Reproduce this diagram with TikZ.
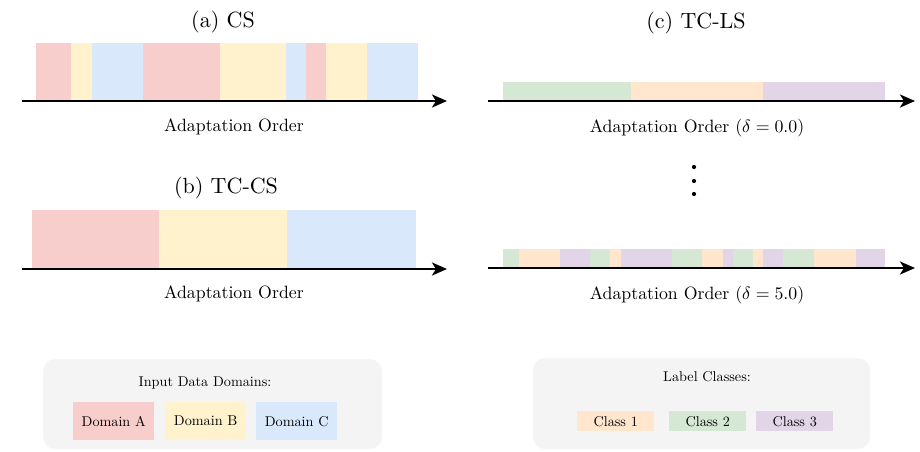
\documentclass[tikz,border=0pt]{standalone}
\usepackage{graphicx}
\usetikzlibrary{arrows.meta}
\definecolor{dpink}{HTML}{F8CECC}
\definecolor{dyellow}{HTML}{FFF2CC}
\definecolor{dblue}{HTML}{DAE8FC}
\definecolor{cgreen}{HTML}{D5E8D4}
\definecolor{corange}{HTML}{FFE6CC}
\definecolor{cpurple}{HTML}{E1D5E7}
\definecolor{legbg}{HTML}{F4F4F4}
% text set at the 10pt design size, then enlarged
\newcommand\pantxt[1]{\scalebox{2.2}{#1}}
\newcommand\axtxt[1]{\scalebox{1.78}{#1}}
\newcommand\legtxt[1]{\scalebox{1.42}{#1}}
\begin{document}
\begin{tikzpicture}[x=1pt,y=-1pt,
  axis/.style={line width=2.6pt,-{Stealth[length=15pt,width=13pt,inset=4pt]}},
  txt/.style={font=\fontsize{10}{12}\selectfont,inner sep=0pt},
  legpanel/.style={fill=legbg,rounded corners=12pt},
  legkey/.style={inner sep=0pt,anchor=north west}]
\useasboundingbox (0,0) rectangle (920,451);

% ---- (a) CS: domain shuffle
\foreach \a/\b/\c in {36/71/dpink,71/92/dyellow,92/143/dblue,143/220/dpink,
                      220/286/dyellow,286/306/dblue,306/326/dpink,326/367/dyellow,367/418/dblue}
  \fill[\c] (\a,43) rectangle (\b,100.5);
\coordinate (a0) at (22,101);
\coordinate (a1) at (447,101);
\draw[axis] (a0) -- (a1);
\node[txt] (ta) at (223,22) {\pantxt{(a) CS}};
\node[txt] (la) at (234,127) {\axtxt{Adaptation Order}};

% ---- (b) TC-CS: one block per domain
\foreach \a/\b/\c in {32/159/dpink,159/287/dyellow,287/416/dblue}
  \fill[\c] (\a,210) rectangle (\b,268.5);
\coordinate (b0) at (22,269);
\coordinate (b1) at (447,269);
\draw[axis] (b0) -- (b1);
\node[txt] (tb) at (226,188) {\pantxt{(b) TC-CS}};
\node[txt] (lb) at (234,294) {\axtxt{Adaptation Order}};

% ---- (c) TC-LS, delta = 0
\foreach \a/\b/\c in {503/631/cgreen,631/763/corange,763/885/cpurple}
  \fill[\c] (\a,82) rectangle (\b,100.5);
\coordinate (c0) at (488,101);
\coordinate (c1) at (915,101);
\draw[axis] (c0) -- (c1);
\node[txt] (tc) at (696,23) {\pantxt{(c) TC-LS}};
\node[txt] (lc) at (697,128) {\axtxt{Adaptation Order ($\delta = 0.0$)}};

% vertical ellipsis
\foreach \y in {167,181,194}
  \fill (694,\y) circle (2.1);

% ---- (c) TC-LS, delta = 5
\foreach \a/\b/\c in {503/519/cgreen,519/560/corange,560/590/cpurple,590/610/cgreen,
                      610/621/corange,621/672/cpurple,672/702/cgreen,702/723/corange,
                      723/733/cpurple,733/753/cgreen,753/763/corange,763/783/cpurple,
                      783/814/cgreen,814/856/corange,856/885/cpurple}
  \fill[\c] (\a,249) rectangle (\b,267.5);
\coordinate (d0) at (488,268);
\coordinate (d1) at (915,268);
\draw[axis] (d0) -- (d1);
\node[txt] (ld) at (697,295) {\axtxt{Adaptation Order ($\delta = 5.0$)}};

% ---- legend: domains
\fill[legpanel] (43,359) rectangle (382,449);
\node[txt] (lgd) at (205,383) {\legtxt{Input Data Domains:}};
\node[legkey,fill=dpink,minimum width=81pt,minimum height=38pt] (kA) at (73,402) {};
\node[legkey,fill=dyellow,minimum width=81pt,minimum height=38pt] (kB) at (165,402) {};
\node[legkey,fill=dblue,minimum width=81pt,minimum height=38pt] (kC) at (256,402) {};
\node[txt] at (kA.center) {\legtxt{Domain A}};
\node[txt] at (kB.center) {\legtxt{Domain B}};
\node[txt] at (kC.center) {\legtxt{Domain C}};

% ---- legend: classes
\fill[legpanel] (533,358) rectangle (870,449);
\node[txt] (lgc) at (707,377) {\legtxt{Label Classes:}};
\node[legkey,fill=corange,minimum width=77pt,minimum height=20pt] (k1) at (577,411) {};
\node[legkey,fill=cgreen,minimum width=77pt,minimum height=20pt] (k2) at (669,411) {};
\node[legkey,fill=cpurple,minimum width=77pt,minimum height=20pt] (k3) at (756,411) {};
\node[txt] at (k1.center) {\legtxt{Class 1}};
\node[txt] at (k2.center) {\legtxt{Class 2}};
\node[txt] at (k3.center) {\legtxt{Class 3}};
\end{tikzpicture}
\end{document}
